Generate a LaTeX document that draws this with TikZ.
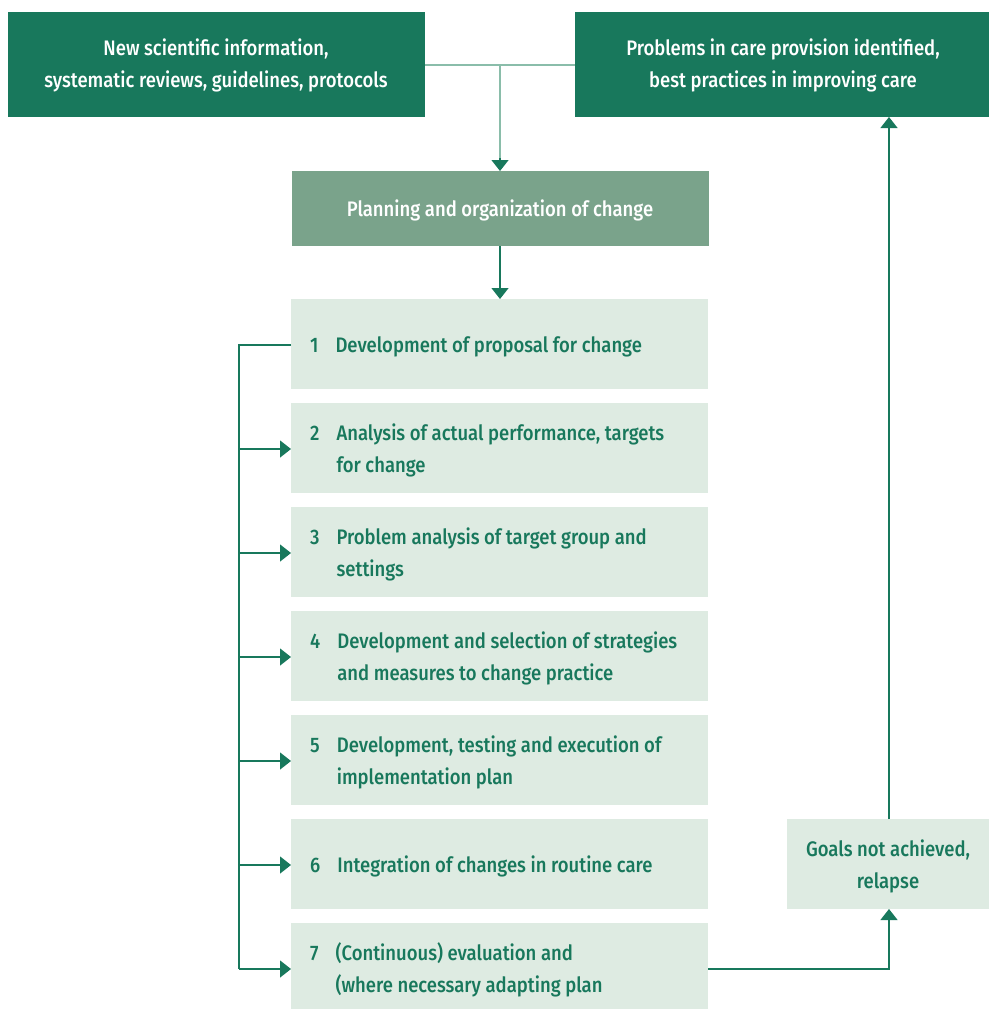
\documentclass[tikz,border=0pt]{standalone}
\usepackage{fontspec}
\setmainfont{Fira Sans}[UprightFont=* Medium,FakeStretch=0.88]
\usetikzlibrary{arrows.meta}
\definecolor{dkgreen}{HTML}{18785C}
\definecolor{midgreen}{HTML}{7AA38B}
\definecolor{ltgreen}{HTML}{DEEBE2}
\definecolor{lnlight}{HTML}{8ABDAA}
\begin{document}
\begin{tikzpicture}[x=1pt,y=-1pt,
  every node/.style={font=\fontsize{21}{32}\selectfont,inner sep=0pt},
  whitetext/.style={text=white,align=center},
  greentext/.style={text=dkgreen},
  tip/.style={-{Triangle[width=17pt,length=11pt]}},
  link/.style={draw=dkgreen,line width=1.2pt},
  lightlink/.style={draw=lnlight,line width=1.5pt},
]
\useasboundingbox (0,0) rectangle (989,1009);
% source boxes
\fill[dkgreen] (8,12) rectangle (425,117);
\node[whitetext] (src) at (216,65) {New scientific information,\\systematic reviews, guidelines, protocols};
\coordinate (srcR) at (425,65);
\fill[dkgreen] (575,12) rectangle (989,117);
\node[whitetext] (prob) at (783,65) {Problems in care provision identified,\\best practices in improving care};
\coordinate (probL) at (575,65);
\coordinate (probB) at (889,117);
% planning box
\fill[midgreen] (292,171) rectangle (709,246);
\node[text=white] (plan) at (500,210) {Planning and organization of change};
\coordinate (planT) at (500,171);
\coordinate (planB) at (500,246);
\coordinate (join) at (500,65);
\draw[lightlink] (srcR) -- (probL);
\draw[lightlink] (join) -- (500,160);
\draw[link,tip] (500,158) -- (planT);
% steps
\foreach \n/\t/\txt in {1/299/{1 & Development of proposal for change},
  2/403/{2 & Analysis of actual performance, targets\\ & for change},
  3/507/{3 & Problem analysis of target group and\\ & settings},
  4/611/{4 & Development and selection of strategies\\ & and measures to change practice},
  5/715/{5 & Development, testing and execution of\\ & implementation plan},
  6/819/{6 & Integration of changes in routine care},
  7/923/{7 & (Continuous) evaluation and\\ & (where necessary adapting plan}}{
  \fill[ltgreen] (291,\t) rectangle (708,\t+90);
  \coordinate (s\n) at (291,\t+46);
  \node[greentext,anchor=west] (txt\n) at (310,\t+47)
    {\begin{tabular}{@{}c@{\hspace{17pt}}l@{}}\txt\end{tabular}};
}
\coordinate (s7R) at (708,969);
\draw[link,tip] (planB) -- (500,299);
% feedback bracket
\coordinate (br1) at (239,345);
\coordinate (br7) at (239,969);
\draw[link] (s1) -- (br1) -- (br7);
\foreach \n in {2,...,7}{
  \draw[link,tip] (239,0 |- s\n) -- (s\n);
}
% goals box
\fill[ltgreen] (787,819) rectangle (989,909);
\node[greentext,align=center] (goal) at (888,866) {Goals not achieved,\\relapse};
\coordinate (goalB) at (889,909);
\coordinate (goalT) at (889,819);
\draw[link,tip] (s7R) -| (goalB);
\draw[link,tip] (goalT) -- (probB);
\end{tikzpicture}
\end{document}
